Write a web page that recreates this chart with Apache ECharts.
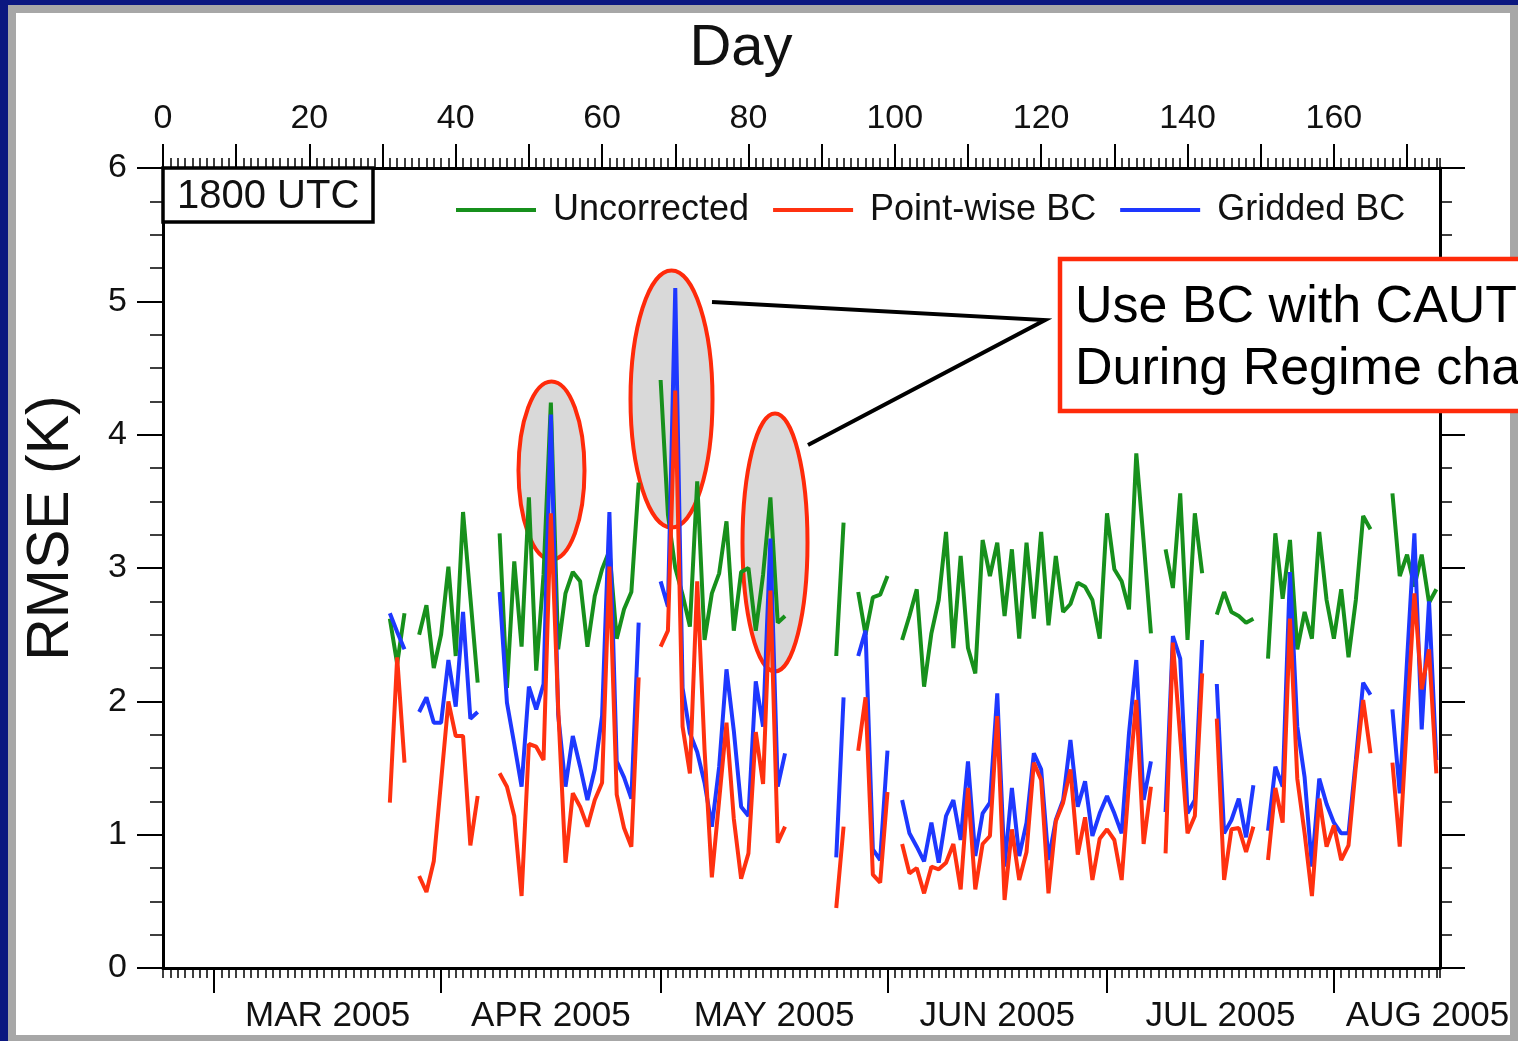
<!DOCTYPE html>
<html>
<head>
<meta charset="utf-8"/>
<title>RMSE 1800 UTC</title>
<script src="https://cdn.jsdelivr.net/npm/echarts@6/dist/echarts.min.js"></script>
<style>
    html, body { margin: 0; padding: 0; width: 1518px; height: 1041px; overflow: hidden; background: #0b1780; }
    #frame { position: absolute; left: 8px; top: 5px; right: 0; bottom: 0; background: #a7a7a7; }
    #paper { position: absolute; left: 16px; top: 13px; width: 1494px; height: 1022px; background: #fff; }
    #main { position: absolute; left: 0; top: 0; width: 1518px; height: 1041px; }
</style>
</head>
<body>
<div id="frame"></div>
<div id="paper"></div>
<div id="main"></div>
<script type="text/javascript">
    // day numbers start at 0 = 22 Feb 2005, series start at day 31
    var firstDay = 31;
    var uncorrected = [
        2.62, 2.28, 2.66, null,
        2.50, 2.72, 2.25, 2.50, 3.01, 2.34, 3.42, 2.78, 2.14, null, null,
        3.26, 2.10, 3.05, 2.41, 3.53, 2.23, 2.95, 4.24,
        2.39, 2.81, 2.97, 2.90, 2.41, 2.79, 2.99, 3.13, 2.47, 2.69, 2.82, 3.64, null, null,
        4.41, 3.40, 3.00, 2.80, 2.56, 3.65, 2.46, 2.81, 2.96, 3.35, 2.53, 2.97, 3.00, 2.53, 2.95, 3.53, 2.59, 2.64,
        null, null, null, null, null, null,
        2.34, 3.34, null,
        2.82, 2.50, 2.78, 2.80, 2.94, null,
        2.46, 2.64, 2.84, 2.11, 2.51, 2.76, 3.27, 2.40, 3.09, 2.40, 2.21, 3.21, 2.94, 3.19, 2.64, 3.14, 2.47, 3.19,
        2.62, 3.27, 2.57, 3.09, 2.67, 2.73, 2.89, 2.86, 2.76, 2.47, 3.41, 2.99, 2.90, 2.69, 3.86, 3.20, 2.51, null,
        3.14, 2.85, 3.56, 2.46, 3.41, 2.96, null,
        2.65, 2.82, 2.67, 2.64, 2.59, 2.62, null,
        2.32, 3.26, 2.77, 3.21, 2.39, 2.67, 2.47, 3.27, 2.76, 2.47, 2.84, 2.33, 2.76, 3.39, 3.29, null, null,
        3.56, 2.94, 3.10, 2.86, 3.10, 2.74, 2.84
    ];
    var pointwise = [
        1.24, 2.33, 1.54, null,
        0.69, 0.57, 0.80, 1.40, 2.00, 1.74, 1.74, 0.92, 1.29, null, null,
        1.46, 1.36, 1.14, 0.54, 1.68, 1.66, 1.56, 3.41,
        1.95, 0.79, 1.31, 1.21, 1.06, 1.26, 1.39, 3.01, 1.30, 1.05, 0.91, 2.18, null, null,
        2.41, 2.53, 4.33, 1.81, 1.46, 2.90, 1.64, 0.68, 1.26, 1.84, 1.12, 0.67, 0.86, 1.77, 1.38, 2.83, 0.94, 1.06,
        null, null, null, null, null, null,
        0.45, 1.06, null,
        1.63, 2.03, 0.70, 0.64, 1.32, null,
        0.93, 0.71, 0.75, 0.56, 0.76, 0.74, 0.79, 0.93, 0.59, 1.35, 0.59, 0.93, 0.99, 1.89, 0.51, 1.04, 0.66, 0.87,
        1.54, 1.41, 0.56, 1.10, 1.24, 1.49, 0.85, 1.13, 0.66, 0.97, 1.04, 0.96, 0.66, 1.39, 2.01, 0.93, 1.36, null,
        0.86, 2.44, 1.73, 1.01, 1.14, 2.21, null,
        1.87, 0.66, 1.04, 1.05, 0.87, 1.06, null,
        0.81, 1.35, 1.09, 2.62, 1.42, 1.01, 0.54, 1.27, 0.91, 1.07, 0.81, 0.92, 1.51, 2.01, 1.61, null, null,
        1.54, 0.91, 1.86, 2.81, 2.09, 2.39, 1.46
    ];
    var gridded = [
        2.66, 2.52, 2.39, null,
        1.92, 2.03, 1.84, 1.84, 2.31, 1.96, 2.67, 1.87, 1.92, null, null,
        2.82, 1.99, 1.68, 1.36, 2.11, 1.94, 2.13, 4.15,
        1.90, 1.36, 1.74, 1.51, 1.26, 1.49, 1.89, 3.42, 1.55, 1.43, 1.27, 2.59, null, null,
        2.90, 2.71, 5.10, 2.10, 1.76, 1.62, 1.39, 1.06, 1.51, 2.24, 1.78, 1.21, 1.14, 2.15, 1.81, 3.22, 1.36, 1.61,
        null, null, null, null, null, null,
        0.83, 2.03, null,
        2.34, 2.53, 0.89, 0.81, 1.63, null,
        1.26, 1.01, 0.91, 0.80, 1.09, 0.79, 1.14, 1.26, 0.96, 1.55, 0.84, 1.16, 1.24, 2.06, 0.76, 1.35, 0.84, 1.09,
        1.61, 1.49, 0.81, 1.11, 1.26, 1.71, 1.21, 1.40, 0.99, 1.16, 1.29, 1.16, 1.01, 1.76, 2.31, 1.26, 1.55, null,
        1.17, 2.49, 2.32, 1.16, 1.26, 2.46, null,
        2.13, 1.01, 1.11, 1.27, 0.98, 1.37, null,
        1.03, 1.51, 1.36, 2.97, 1.81, 1.43, 0.76, 1.42, 1.23, 1.09, 1.01, 1.01, 1.56, 2.14, 2.05, null, null,
        1.94, 1.31, 2.31, 3.26, 1.79, 2.75, 1.56
    ];

    // axes
    var dayMax = 174.5;
    var dayTicks = [0, 10, 20, 30, 40, 50, 60, 70, 80, 90, 100, 110, 120, 130, 140, 150, 160, 170];
    var dayLabels = [0, 20, 40, 60, 80, 100, 120, 140, 160];
    var monthStarts = [7, 38, 68, 99, 129, 160];
    var monthLabelDays = [22.5, 53, 83.5, 114, 144.5, 172.8];
    var monthLabels = ['MAR 2005', 'APR 2005', 'MAY 2005', 'JUN 2005', 'JUL 2005', 'AUG 2005'];

    function pairs(values) {
        return values.map(function (v, i) {
            return [firstDay + i, v === null ? '-' : v];
        });
    }

    var FONT = 'Liberation Sans, Arial, Helvetica, sans-serif';
    var black = '#000';
    var ink = '#111';

    var myChart = echarts.init(document.getElementById('main'), null, {renderer: 'canvas'});

    var option = {
        animation: false,
        backgroundColor: 'transparent',
        textStyle: {fontFamily: FONT, color: black},
        grid: {left: 163, top: 168, width: 1277, height: 800, containLabel: false},
        legend: {
            data: ['Uncorrected', 'Point-wise BC', 'Gridded BC'],
            left: 456,
            top: 192,
            padding: 0,
            icon: 'rect',
            itemWidth: 80,
            itemHeight: 4,
            itemGap: 24,
            textStyle: {fontFamily: FONT, fontSize: 36, color: ink, padding: [0, 0, 0, 12]}
        },
        xAxis: [
            {   // top: day numbers
                type: 'value', position: 'top', min: 0, max: dayMax,
                axisLine: {show: true, onZero: false, lineStyle: {color: black, width: 3}},
                axisTick: {show: true, customValues: dayTicks, length: 24, lineStyle: {color: black, width: 2}},
                axisLabel: {customValues: dayLabels, fontSize: 34, margin: 32, color: ink, fontFamily: FONT},
                splitLine: {show: false}
            },
            {   // top: daily minor ticks
                type: 'value', position: 'top', min: 0, max: dayMax, interval: 1,
                axisLine: {show: false, onZero: false},
                axisTick: {show: true, length: 10, lineStyle: {color: black, width: 1.5}},
                axisLabel: {show: false},
                splitLine: {show: false}
            },
            {   // bottom: daily minor ticks
                type: 'value', position: 'bottom', min: 0, max: dayMax, interval: 1,
                axisLine: {show: true, onZero: false, lineStyle: {color: black, width: 3}},
                axisTick: {show: true, length: 10, lineStyle: {color: black, width: 1.5}},
                axisLabel: {show: false},
                splitLine: {show: false}
            },
            {   // bottom: months
                type: 'value', position: 'bottom', min: 0, max: dayMax,
                axisLine: {show: false, onZero: false},
                axisTick: {show: true, customValues: monthStarts, length: 25, lineStyle: {color: black, width: 2}},
                axisLabel: {
                    customValues: monthLabelDays, fontSize: 35, margin: 31, color: ink, fontFamily: FONT,
                    formatter: function (v) {
                        var i = monthLabelDays.indexOf(v);
                        return i >= 0 ? monthLabels[i] : '';
                    }
                },
                splitLine: {show: false}
            }
        ],
        yAxis: [
            {
                type: 'value', position: 'left', min: 0, max: 6, interval: 1,
                axisLine: {show: true, onZero: false, lineStyle: {color: black, width: 3}},
                axisTick: {show: true, length: 26, lineStyle: {color: black, width: 2}},
                minorTick: {show: true, splitNumber: 4, length: 13, lineStyle: {color: black, width: 1.5}},
                axisLabel: {fontSize: 34, margin: 36, color: ink, fontFamily: FONT},
                splitLine: {show: false}
            },
            {
                type: 'value', position: 'right', min: 0, max: 6, interval: 1,
                axisLine: {show: true, onZero: false, lineStyle: {color: black, width: 3}},
                axisTick: {show: true, length: 25, lineStyle: {color: black, width: 2}},
                minorTick: {show: true, splitNumber: 4, length: 12, lineStyle: {color: black, width: 1.5}},
                axisLabel: {show: false},
                splitLine: {show: false}
            }
        ],
        series: [
            {
                name: 'Uncorrected', type: 'line', xAxisIndex: 0, yAxisIndex: 0,
                data: pairs(uncorrected), showSymbol: false, z: 3,
                itemStyle: {color: '#17901c'},
                lineStyle: {color: '#17901c', width: 4}
            },
            {
                name: 'Point-wise BC', type: 'line', xAxisIndex: 0, yAxisIndex: 0,
                data: pairs(pointwise), showSymbol: false, z: 5,
                itemStyle: {color: '#ff3110'},
                lineStyle: {color: '#ff3110', width: 4}
            },
            {
                name: 'Gridded BC', type: 'line', xAxisIndex: 0, yAxisIndex: 0,
                data: pairs(gridded), showSymbol: false, z: 4,
                itemStyle: {color: '#1e38ff'},
                lineStyle: {color: '#1e38ff', width: 4}
            }
        ],
        graphic: [
            // regime change ellipses (behind the lines)
            {type: 'ellipse', z: 1, shape: {cx: 551.5, cy: 470.5, rx: 33, ry: 89},
                style: {fill: '#d9d9d9', stroke: '#ff2a0a', lineWidth: 4}},
            {type: 'ellipse', z: 1, shape: {cx: 671.5, cy: 399, rx: 41, ry: 128.5},
                style: {fill: '#d9d9d9', stroke: '#ff2a0a', lineWidth: 4}},
            {type: 'ellipse', z: 1, shape: {cx: 775, cy: 542.5, rx: 32.5, ry: 129},
                style: {fill: '#d9d9d9', stroke: '#ff2a0a', lineWidth: 4}},
            // callout lines
            {type: 'polyline', z: 20, shape: {points: [[712, 302], [1045, 320], [808, 445]]},
                style: {stroke: black, lineWidth: 4, fill: null}},
            // caution box
            {type: 'rect', z: 30, shape: {x: 1060, y: 259, width: 480, height: 152},
                style: {fill: '#fff', stroke: '#ff2a0a', lineWidth: 4.5}},
            {type: 'text', z: 31, x: 1075, y: 308,
                style: {text: 'Use BC with CAUTION', font: '52px ' + FONT, fill: black, textVerticalAlign: 'middle'}},
            {type: 'text', z: 31, x: 1075, y: 370,
                style: {text: 'During Regime change', font: '52px ' + FONT, fill: black, textVerticalAlign: 'middle'}},
            // 1800 UTC label box
            {type: 'rect', z: 30, shape: {x: 163, y: 168, width: 210, height: 54},
                style: {fill: '#fff', stroke: black, lineWidth: 3.5}},
            {type: 'text', z: 31, x: 177, y: 197,
                style: {text: '1800 UTC', font: '40px ' + FONT, fill: ink, textVerticalAlign: 'middle'}},
            // axis titles
            {type: 'text', z: 31, x: 741, y: 49,
                style: {text: 'Day', font: '58px ' + FONT, fill: ink, textAlign: 'center', textVerticalAlign: 'middle'}},
            {type: 'text', z: 31, x: 52, y: 528, rotation: Math.PI / 2,
                style: {text: 'RMSE (K)', font: '59px ' + FONT, fill: ink, textAlign: 'center', textVerticalAlign: 'middle'}}
        ]
    };
    myChart.setOption(option);
</script>
</body>
</html>
